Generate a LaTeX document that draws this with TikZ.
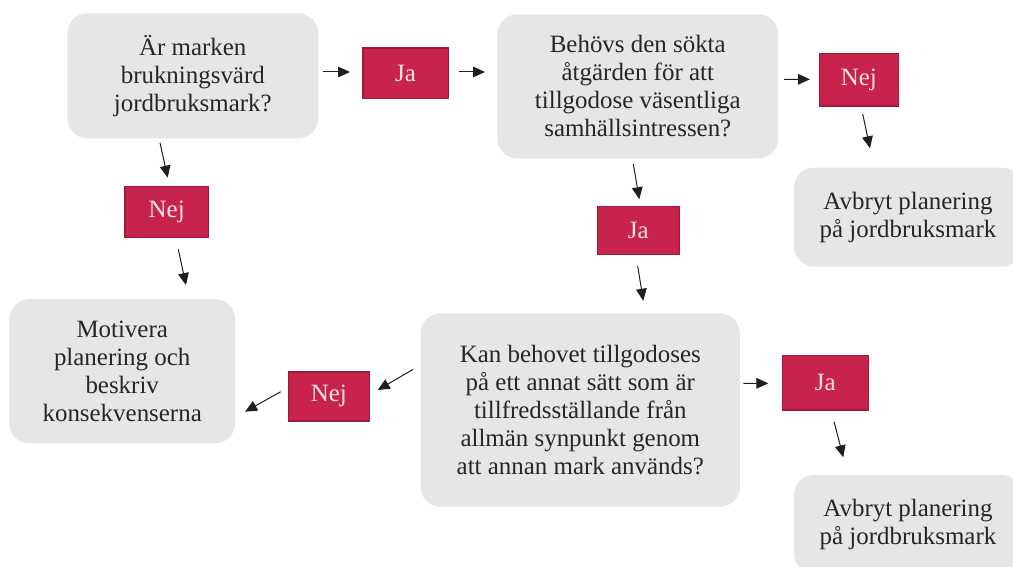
\documentclass[tikz,border=0pt]{standalone}
\usepackage{fontspec}
\setmainfont{Liberation Serif}
\usetikzlibrary{arrows.meta}
\definecolor{boxgray}{HTML}{E6E6E6}
\definecolor{txtgray}{HTML}{262626}
\definecolor{redfill}{HTML}{C8234B}
\definecolor{redline}{HTML}{9E1A3B}
\definecolor{redtxt}{HTML}{F6E4E9}
\begin{document}
\begin{tikzpicture}[x=0.75pt,y=-0.75pt,
  qbox/.style={fill=boxgray, rounded corners=15pt, align=center, text=txtgray,
    font=\fontsize{18.7}{21}\selectfont, inner sep=0pt, outer sep=0pt},
  ansbox/.style={draw=redline, line width=1.2pt, fill=redfill, text=redtxt,
    font=\fontsize{18.7}{21}\selectfont, inner sep=0pt, outer sep=0pt},
  arr/.style={-{Triangle[length=9pt,width=8pt]}, line width=0.75pt, draw=black!88}]
\useasboundingbox (0,0) rectangle (1013,567);
% question boxes
\node[qbox, minimum width=188.25pt, minimum height=93.75pt] (b1) at (192.8,75.8)
  {Är marken\\brukningsvärd\\jordbruksmark?};
\node[qbox, minimum width=210.75pt, minimum height=108pt] (b2) at (637.8,86.3)
  {Behövs den sökta\\åtgärden för att\\tillgodose väsentliga\\samhällsintressen?};
\node[qbox, minimum width=171pt, minimum height=74.25pt] (b3) at (908,217.2)
  {Avbryt planering\\på jordbruksmark};
\node[qbox, minimum width=169.3pt, minimum height=108.2pt] (b4) at (122.2,371.2)
  {Motivera\\planering och\\beskriv\\konsekvenserna};
\node[qbox, minimum width=239.5pt, minimum height=145pt] (b5) at (580.3,410)
  {Kan behovet tillgodoses\\på ett annat sätt som är\\tillfredsställande från\\allmän synpunkt genom\\att annan mark används?};
\node[qbox, minimum width=171pt, minimum height=74.25pt] (b6) at (908,524.5)
  {Avbryt planering\\på jordbruksmark};
% answer boxes
\node[ansbox, minimum width=64.2pt, minimum height=37.5pt] (ja1) at (405.5,73.3) {Ja};
\node[ansbox, minimum width=59.25pt, minimum height=39.5pt] (nej2) at (858.8,79.7) {Nej};
\node[ansbox, minimum width=62.5pt, minimum height=38pt] (nej1) at (166.7,212) {Nej};
\node[ansbox, minimum width=61.5pt, minimum height=35.8pt] (ja2) at (638.3,230.5) {Ja};
\node[ansbox, minimum width=60.75pt, minimum height=36.75pt] (nej3) at (328.8,396.2) {Nej};
\node[ansbox, minimum width=64.5pt, minimum height=40.7pt] (ja3) at (825.3,382.8) {Ja};
% connectors
\draw[arr] ([shift={(4.7,-3.8)}]b1.east) -- ([shift={(-12.7,-1.3)}]ja1.west);
\draw[arr] ([shift={(11,-1.3)}]ja1.east) -- ([shift={(-12.3,-14.3)}]b2.west);
\draw[arr] ([shift={(5.7,-7)}]b2.east) -- ([shift={(-9.3,-0.4)}]nej2.west);
\draw[arr] ([shift={(3.9,8)}]nej2.south) -- ([shift={(-38,-19.4)}]b3.north);
\draw[arr] ([shift={(-32.8,4.4)}]b1.south) -- ([shift={(1,-9)}]nej1.north);
\draw[arr] ([shift={(11.6,12)}]nej1.south) -- ([shift={(63.8,-14)}]b4.north);
\draw[arr] ([shift={(-4.5,5.7)}]b2.south) -- ([shift={(1,-7.4)}]ja2.north);
\draw[arr] ([shift={(-0.6,11.7)}]ja2.south) -- ([shift={(63,-12.6)}]b5.north);
\draw[arr] ([shift={(-7.4,-40.7)}]b5.west) -- ([shift={(8.4,-6.2)}]nej3.east);
\draw[arr] ([shift={(-7.6,-4.5)}]nej3.west) -- ([shift={(10,40.5)}]b4.east);
\draw[arr] ([shift={(3.3,-26.7)}]b5.east) -- ([shift={(-14,0.5)}]ja3.west);
\draw[arr] ([shift={(8.7,11.7)}]ja3.south) -- ([shift={(-64.7,-17.7)}]b6.north);
\end{tikzpicture}
\end{document}
